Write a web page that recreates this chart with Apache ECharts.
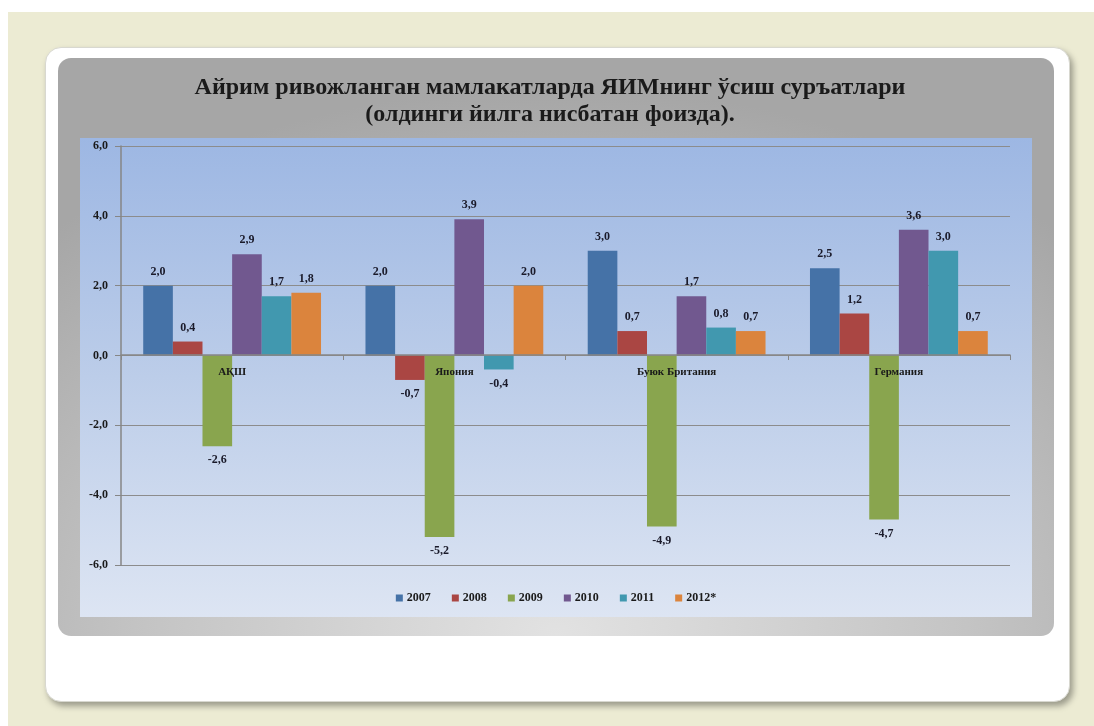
<!DOCTYPE html>
<html>
<head>
<meta charset="utf-8">
<script src="https://cdn.jsdelivr.net/npm/echarts@6/dist/echarts.min.js"></script>
<style>
  html, body { margin: 0; padding: 0; background: #fff; }
  #bg { position: absolute; left: 8px; top: 12px; width: 1086px; height: 714px; background: #ecebd3; }
  #card { position: absolute; left: 45px; top: 47px; width: 1023px; height: 653px; background: #fff;
          border-radius: 16px; border: 1px solid #d8d8d0; box-shadow: 3px 4px 6px rgba(0,0,0,0.35); }
  #panel { position: absolute; left: 58px; top: 58px; width: 996px; height: 578px; border-radius: 13px;
           background: radial-gradient(ellipse 75% 95% at 50% 100%, #e2e2e2 0%, #c4c4c4 55%, #a6a6a6 100%); }
  #plotbg { position: absolute; left: 22px; top: 80px; width: 952px; height: 479px;
            background: linear-gradient(to bottom, #9db7e3 0%, #bccde9 50%, #dde5f3 100%); }
  #chart { position: absolute; left: 0; top: 0; width: 996px; height: 578px; }
</style>
</head>
<body>
<div id="bg"></div>
<div id="card"></div>
<div id="panel">
  <div id="plotbg"></div>
  <div id="chart"></div>
</div>
<script>
const categories = ['АҚШ', 'Япония', 'Буюк Британия', 'Германия'];
const years = ['2007', '2008', '2009', '2010', '2011', '2012*'];
const colors = ['#4572a7', '#aa4643', '#89a54e', '#71588f', '#4198af', '#db843d'];
const v2007 = [2.0, 2.0, 3.0, 2.5];
const v2008 = [0.4, -0.7, 0.7, 1.2];
const v2009 = [-2.6, -5.2, -4.9, -4.7];
const v2010 = [2.9, 3.9, 1.7, 3.6];
const v2011 = [1.7, -0.4, 0.8, 3.0];
const v2012 = [1.8, 2.0, 0.7, 0.7];
const seriesValues = [v2007, v2008, v2009, v2010, v2011, v2012];

const font = '"Liberation Serif", "Times New Roman", serif';
const fmt = v => v.toFixed(1).replace('.', ',');

const chart = echarts.init(document.getElementById('chart'));
chart.setOption({
  backgroundColor: 'transparent',
  color: colors,
  title: {
    text: 'Айрим ривожланган мамлакатларда ЯИМнинг ўсиш суръатлари\n(олдинги йилга нисбатан фоизда).',
    left: 487,
    top: 11,
    textAlign: 'center',
    textStyle: { fontFamily: font, fontSize: 24, fontWeight: 'bold', color: '#1a1a1a', lineHeight: 27 }
  },
  legend: {
    bottom: 27,
    left: 'center',
    icon: 'rect',
    itemWidth: 7,
    itemHeight: 7,
    itemGap: 21,
    textStyle: { fontFamily: font, fontSize: 12, fontWeight: 'bold', color: '#1a1a1a', padding: [0, 0, 0, -1] },
    data: years
  },
  grid: { left: 63, top: 88, right: 44, bottom: 71, containLabel: false },
  xAxis: {
    type: 'category',
    data: categories,
    z: 10,
    offset: -210,
    axisLine: { onZero: false, lineStyle: { color: '#868686', width: 1.5 } },
    axisTick: { show: true, length: 5, lineStyle: { color: '#868686' } },
    axisLabel: { fontFamily: font, fontSize: 11, fontWeight: 'bold', color: '#1a1a1a', margin: 12 }
  },
  yAxis: {
    type: 'value',
    min: -6,
    max: 6,
    interval: 2,
    axisLine: { show: true, lineStyle: { color: '#868686', width: 1.5 } },
    axisTick: { show: true, length: 6, lineStyle: { color: '#868686' } },
    splitLine: { lineStyle: { color: '#8c8c8c', width: 1.2 } },
    axisLabel: { fontFamily: font, fontSize: 12, fontWeight: 'bold', color: '#1a1a1a', margin: 13, formatter: fmt }
  },
  series: years.map((y, i) => ({
    name: y,
    type: 'bar',
    barGap: '0%',
    barCategoryGap: '20%',
    data: seriesValues[i].map(v => ({
      value: v,
      label: { position: v < 0 ? 'bottom' : 'top' }
    })),
    label: {
      show: true,
      distance: 8,
      fontFamily: font,
      fontSize: 12,
      fontWeight: 'bold',
      color: '#1a1a2a',
      formatter: p => fmt(p.value)
    }
  }))
});
</script>
</body>
</html>
